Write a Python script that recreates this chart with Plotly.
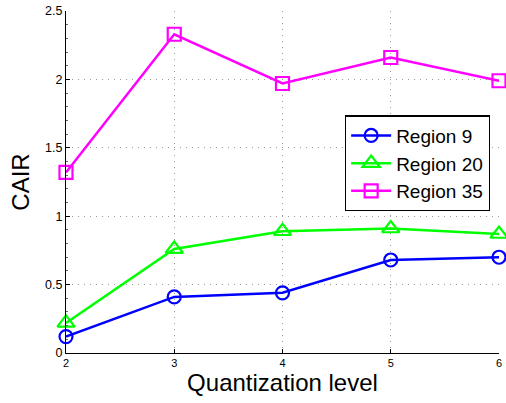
import plotly.graph_objects as go

levels = [2, 3, 4, 5, 6]
region9 = [0.12, 0.41, 0.44, 0.68, 0.70]
region20 = [0.22, 0.76, 0.89, 0.91, 0.87]
region35 = [1.32, 2.33, 1.97, 2.16, 1.99]

series = [
    ("Region 9", region9, "#0000ff", "circle-open", 13),
    ("Region 20", region20, "#00ff00", "triangle-up-open", 15),
    ("Region 35", region35, "#ff00ff", "square-open", 13),
]

fig = go.Figure()
for name, vals, col, sym, sz in series:
    fig.add_trace(go.Scatter(
        x=levels, y=vals, name=name, mode="lines+markers",
        line=dict(color=col, width=2.5),
        marker=dict(symbol=sym, size=sz, color=col, line=dict(width=2.2, color=col)),
        cliponaxis=False,
    ))

fig.update_layout(
    width=506, height=403,
    margin=dict(l=66, r=4, t=11, b=50),
    paper_bgcolor="white", plot_bgcolor="white",
    font=dict(family="Liberation Sans, Arial, sans-serif", color="black"),
    showlegend=True,
    legend=dict(
        x=0.644, y=0.695, xanchor="left", yanchor="top",
        bordercolor="black", borderwidth=1.3, bgcolor="white",
        font=dict(size=19), tracegroupgap=0, itemwidth=40,
    ),
    xaxis=dict(
        range=[2, 6], tickvals=levels, ticktext=[str(v) for v in levels],
        showgrid=True, gridcolor="#999999", griddash="1px,5px", gridwidth=1,
        showline=True, linecolor="black", linewidth=1.3,
        ticks="inside", ticklen=4, tickcolor="black",
        tickfont=dict(size=11), zeroline=False,
        title=dict(text="Quantization level", font=dict(size=24), standoff=2),
    ),
    yaxis=dict(
        range=[0, 2.5], tickvals=[0, 0.5, 1, 1.5, 2, 2.5],
        ticktext=["0", "0.5", "1", "1.5", "2", "2.5"],
        showgrid=True, gridcolor="#999999", griddash="1px,5px", gridwidth=1,
        showline=True, linecolor="black", linewidth=1.3,
        ticks="inside", ticklen=4, tickcolor="black",
        tickfont=dict(size=12.5), zeroline=False,
        minor=dict(dtick=0.1, ticks="inside", ticklen=2, tickcolor="#666666", showgrid=False),
        title=dict(text="CAIR", font=dict(size=24), standoff=8),
    ),
)

fig.write_html("out.html")
